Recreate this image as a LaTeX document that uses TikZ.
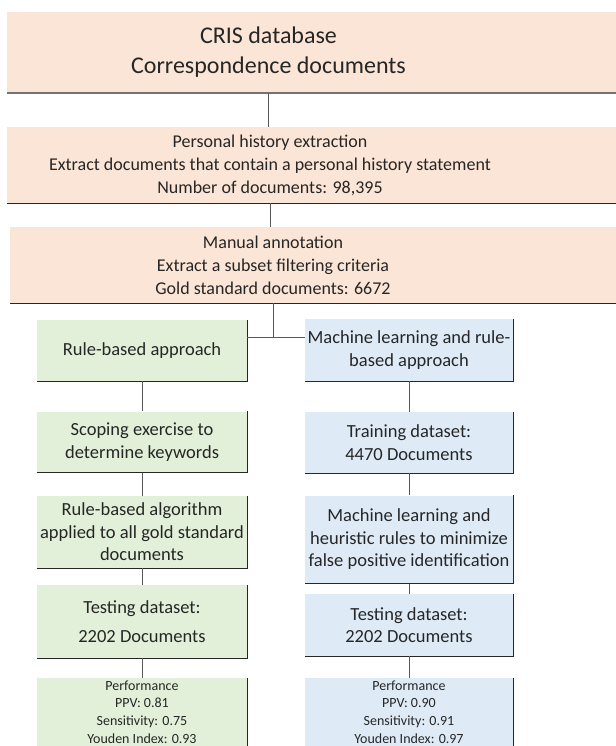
\documentclass[tikz,border=0pt]{standalone}
\usepackage{fontspec}
\setmainfont{Carlito}
\usepackage{tikz}
\usepackage{xcolor}
\definecolor{pessego}{HTML}{FBE5D6}
\definecolor{verde}{HTML}{E2F0D9}
\definecolor{azul}{HTML}{DEEBF7}
\definecolor{linha}{HTML}{595959}
\definecolor{texto}{HTML}{262626}

\begin{document}
\begin{tikzpicture}[x=1pt,y=-1pt,
        caixa/.style={inner sep=0pt, align=center, text=texto, font=\fontsize{18.5}{22.5}\selectfont},
        topo/.style={caixa, fill=pessego},
        esq/.style={caixa, fill=verde, minimum width=210pt},
        dir/.style={caixa, fill=azul, minimum width=208pt},
        sombra/.style={draw=black!85, line width=1.4pt},
        conector/.style={draw=linha, line width=0.9pt},
        desempenho/.style={font=\fontsize{14}{17.8}\selectfont}]
        \useasboundingbox (0,0) rectangle (615,746);

        % Caixas do topo (o fundo segue ate a borda direita)
        \node[topo, minimum width=523pt, minimum height=81pt, font=\fontsize{24}{30}\selectfont] (cris) at (268.5,52.5) {CRIS database\\Correspondence documents};
        \node[topo, minimum width=526pt, minimum height=76pt, font=\fontsize{18}{23}\selectfont] (hist) at (270,165) {Personal history extraction\\Extract documents that contain a personal history statement\\Number of documents: 98,395};
        \node[topo, minimum width=526pt, minimum height=76pt, font=\fontsize{18}{23}\selectfont] (anot) at (273,265) {Manual annotation\\Extract a subset filtering criteria\\Gold standard documents: 6672};

        \coordinate (borda) at (620,0);
        \foreach \n in {cris,hist,anot}
            \fill[pessego] (\n.north east) rectangle (\n.south -| borda);
        \draw[line width=2pt, draw=black!55] (cris.south west) -- (cris.south -| borda);
        \foreach \n in {hist,anot}
            \draw[sombra] (\n.south west) -- (\n.south -| borda);

        % Coluna da esquerda
        \node[esq, minimum height=61pt] (regra) at (142,350.5) {Rule-based approach};
        \node[esq, minimum height=61pt] (escopo) at (142,442) {Scoping exercise to\\determine keywords};
        \node[esq, minimum height=72pt] (algo) at (142,532) {Rule-based algorithm\\applied to all gold standard\\documents};
        \node[esq, minimum height=73pt] (testeE) at (142,621.5) {Testing dataset:\\[7pt]2202 Documents};
        \node[esq, desempenho, minimum height=68pt] (perfE) at (142,712) {Performance\\PPV: 0.81\\Sensitivity: 0.75\\Youden Index: 0.93};

        % Coluna da direita
        \node[dir, minimum height=62pt] (ml) at (409,350) {Machine learning and rule-\\based approach};
        \node[dir, minimum height=61pt] (treino) at (409,442.5) {Training dataset:\\4470 Documents};
        \node[dir, minimum height=88pt] (heur) at (409,539.5) {Machine learning and\\heuristic rules to minimize\\false positive identification};
        \node[dir, minimum height=62pt] (testeD) at (409,625) {Testing dataset:\\2202 Documents};
        \node[dir, desempenho, minimum height=68pt] (perfD) at (409,712) {Performance\\PPV: 0.90\\Sensitivity: 0.91\\Youden Index: 0.97};

        % Sombra (bordas de baixo e da direita)
        \foreach \n in {regra,escopo,algo,testeE,perfE,ml,treino,heur,testeD,perfD}
            \draw[sombra] (\n.south west) -- (\n.south east) -- (\n.north east);

        % Ligacoes
        \draw[conector] (cris.south) -- (cris.south |- hist.north);
        \draw[conector] (hist.south) -- (hist.south |- anot.north);
        \coordinate (divisao) at (273,337);
        \draw[conector] (anot.south) -- (divisao);
        \draw[conector] (divisao -| regra.east) -- (divisao -| ml.west);
        \foreach \a/\b in {regra/escopo,escopo/algo,algo/testeE,testeE/perfE,ml/treino,treino/heur,heur/testeD,testeD/perfD}
            \draw[conector] (\a) -- (\b);
    \end{tikzpicture}
\end{document}
